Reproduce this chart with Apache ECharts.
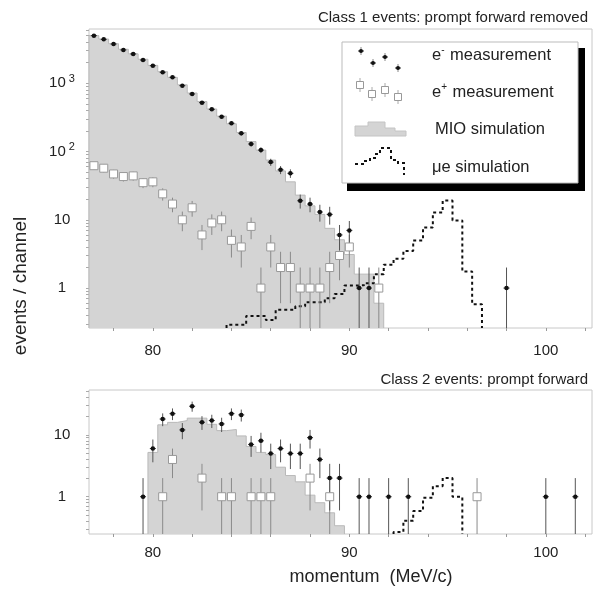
<!DOCTYPE html>
<html>
<head>
<meta charset="utf-8">
<script src="https://cdn.jsdelivr.net/npm/echarts@6/dist/echarts.min.js"></script>
<style>html,body{margin:0;padding:0;background:#fff}#c{width:595px;height:591px}</style>
</head>
<body>
<div id="c"></div>
<script>
// ---------- DATA ----------
// Class 1 (top panel)
const topEmX   = [77,77.5,78,78.5,79,79.5,80,80.5,81,81.5,82,82.5,83,83.5,84,84.5,85,85.5,86,86.5,87,87.5,88,88.5,89,89.5,90,90.5,91,98];
const topEmY   = [4980,4400,3760,3080,2690,2190,1810,1450,1225,923,697,520,416,324,260,185,129,105,70,54,48,19,17,13,12,6,7,1,1,1];
const topEmErr = [71,66,61,55,52,47,43,38,35,30,26,23,20,18,16,14,11,10,8.4,7.3,6.9,4.4,4.1,3.6,3.5,2.4,2.6,1,1,1];

const topEpX   = [77,77.5,78,78.5,79,79.5,80,80.5,81,81.5,82,82.5,83,83.5,84,84.5,85,85.5,86,86.5,87,87.5,88,88.5,89,89.5,90,91.5];
const topEpY   = [62,57,47,43,44,35,36,24,17,10,15,6,9,10,5,4,8,1,4,2,2,1,1,1,2,3,4,1];
const topEpErr = [7.9,7.5,6.9,6.6,6.6,5.9,6,4.9,4.1,3.2,3.9,2.4,3,3.2,2.2,2,2.8,1,2,1.4,1.4,1,1,1,1.4,1.7,2,1];

const topMioX  = [77,77.5,78,78.5,79,79.5,80,80.5,81,81.5,82,82.5,83,83.5,84,84.5,85,85.5,86,86.5,87,87.5,88,88.5,89,89.5,90,90.5,91,91.5];
const topMioY  = [5000,4450,3800,3150,2700,2250,1830,1480,1220,950,720,540,420,330,255,190,140,105,75,52,36,23,16,12,7.5,5.1,3.1,1.6,1.6,0.6];

const topMueX  = [84,84.5,85,85.5,86,86.5,87,87.5,88,88.5,89,89.5,90,90.5,91,91.5,92,92.5,93,93.5,94,94.5,95,95.5,96,96.5];
const topMueY  = [0.29,0.29,0.39,0.39,0.34,0.48,0.48,0.54,0.62,0.62,0.71,0.82,1.09,1.1,1.18,1.6,2.2,2.68,3.5,4.97,7.7,12.8,19.1,9.8,1.75,0.58];

// Class 2 (bottom panel)
const botEmX   = [79.5,80,80.5,81,81.5,82,82.5,83,83.5,84,84.5,85,85.5,86,86.5,87,87.5,88,88.5,89,89.5,90.5,91,92,93,100,101.5];
const botEmY   = [1,6,18,22,12,29,16,17,15,22,21,7,8,5,6,5,5,9,4,2,2,1,1,1,1,1,1];
const botEmErr = [1,2.4,4.2,4.7,3.5,5.4,4,4.1,3.9,4.7,4.6,2.6,2.8,2.2,2.4,2.2,2.2,3,2,1.4,1.4,1,1,1,1,1,1];

const botEpX   = [80.5,81,82.5,83.5,84,85,85.5,86,88,89,96.5];
const botEpY   = [1,4,2,1,1,1,1,1,2,1,1];
const botEpErr = [1,2,1.4,1,1,1,1,1,1.4,1,1];

const botMioX  = [80,80.5,81,81.5,82,82.5,83,83.5,84,84.5,85,85.5,86,86.5,87,87.5,88,88.5,89,89.5];
const botMioY  = [5.2,14.5,15.9,17,18.6,18.6,14.8,11.7,12.2,9.6,6.5,5.2,4.8,3.0,2.2,1.74,1.06,0.8,0.55,0.34];

const botMueX  = [92.5,93,93.5,94,94.5,95,95.5];
const botMueY  = [0.27,0.41,0.59,0.96,1.48,2.0,1.0];

// tick positions
const xTickValues   = [78,80,82,84,86,88,90,92,94,96,98,100,102];
const xLabelValues  = [80,90,100];
const topYTickValues = [0.3,0.4,0.5,0.6,0.7,0.8,0.9,1,2,3,4,5,6,7,8,9,10,20,30,40,50,60,70,80,90,100,200,300,400,500,600,700,800,900,1000,2000,3000,4000,5000,6000];
const botYTickValues = [0.3,0.4,0.5,0.6,0.7,0.8,0.9,1,2,3,4,5,6,7,8,9,10,20,30,40,50];
const binHalf = 0.25;

// ---------- helpers ----------
const X_MIN = 76.75, X_MAX = 102.35;
const TOP_YMIN = 0.26, TOP_YMAX = 6240;
const BOT_YMIN = 0.25, BOT_YMAX = 53;
const FONT = '"Liberation Sans", Arial, Helvetica, sans-serif';

function steps(xs, ys, floor) {
  const d = [[xs[0] - binHalf, floor]];
  for (let i = 0; i < xs.length; i++) {
    d.push([xs[i] - binHalf, ys[i]]);
    d.push([xs[i] + binHalf, ys[i]]);
  }
  d.push([xs[xs.length - 1] + binHalf, floor]);
  return d;
}
function triples(xs, ys, es) { return xs.map((x, i) => [x, ys[i], es[i]]); }
function pairs(xs, ys) { return xs.map((x, i) => [x, ys[i]]); }

function errSeries(xi, yi, data, yMin, color, cap) {
  return {
    type: 'custom', xAxisIndex: xi, yAxisIndex: yi, clip: true, z: 3, silent: true,
    data: data,
    renderItem: function (params, api) {
      const x = api.value(0), y = api.value(1), e = api.value(2);
      const lo = Math.max(y - e, yMin * 0.9);
      const p1 = api.coord([x, lo]);
      const p2 = api.coord([x, y + e]);
      const children = [{
        type: 'line', shape: { x1: p1[0], y1: p1[1], x2: p2[0], y2: p2[1] },
        style: { stroke: color, lineWidth: 1 }
      }];
      if (cap) {
        const c = api.coord([x, y]);
        children.push({ type: 'line', shape: { x1: c[0] - 3, y1: c[1], x2: c[0] + 3, y2: c[1] },
          style: { stroke: '#333', lineWidth: 1 } });
      }
      return { type: 'group', children: children };
    }
  };
}

function yLabel(v) {
  const p = Math.round(Math.log10(v));
  if (Math.abs(Math.log10(v) - p) > 0.01) return '';
  if (p === 0) return '1';
  if (p === 1) return '10';
  return '{b|10}{s|' + p + '}';
}
const yRich = {
  b: { fontSize: 15, fontFamily: FONT, color: '#222' },
  s: { fontSize: 11, fontFamily: FONT, color: '#222', padding: [0, 0, 9, 3] }
};

function xAxisDef(gi, margin) {
  return {
    type: 'value', gridIndex: gi, min: X_MIN, max: X_MAX,
    axisLine: { show: false },
    splitLine: { show: false },
    axisTick: { show: true, length: 3, lineStyle: { color: '#999' }, customValues: xTickValues },
    axisLabel: { show: true, fontSize: 15, fontFamily: FONT, color: '#222', margin: margin, customValues: xLabelValues }
  };
}
function yAxisDef(gi, mn, mx, ticks) {
  return {
    type: 'log', logBase: 10, gridIndex: gi, min: mn, max: mx,
    axisLine: { show: false },
    splitLine: { show: false },
    axisTick: { show: true, length: 3, lineStyle: { color: '#aaa' }, customValues: ticks },
    minorTick: { show: false },
    axisLabel: { show: true, showMinLabel: false, showMaxLabel: false, align: 'center', margin: 27,
      fontSize: 15, fontFamily: FONT, color: '#222', formatter: yLabel, rich: yRich }
  };
}

function mioSeries(xi, yi, data) {
  return {
    type: 'line', xAxisIndex: xi, yAxisIndex: yi, data: data, symbol: 'none', z: 1,
    lineStyle: { color: '#b9b9b9', width: 1 },
    areaStyle: { color: '#d4d4d4', opacity: 1, origin: 'start' },
    animation: false, silent: true
  };
}
function mueSeries(xi, yi, data) {
  return {
    type: 'line', xAxisIndex: xi, yAxisIndex: yi, data: data, symbol: 'none', z: 2,
    lineStyle: { color: '#111', width: 2, type: [3, 3] },
    animation: false, silent: true
  };
}
function epSeries(xi, yi, data) {
  return {
    type: 'scatter', xAxisIndex: xi, yAxisIndex: yi, data: data, symbol: 'rect', symbolSize: 8, z: 4,
    itemStyle: { color: '#fff', borderColor: '#999', borderWidth: 1, opacity: 1 }, silent: true
  };
}
function emSeries(xi, yi, data) {
  return {
    type: 'scatter', xAxisIndex: xi, yAxisIndex: yi, data: data, symbol: 'circle', symbolSize: 4.5, z: 5,
    itemStyle: { color: '#111', opacity: 1 }, silent: true
  };
}

// ---------- legend graphics ----------
const LG = [];
LG.push({ type: 'rect', shape: { x: 347, y: 48, width: 238, height: 143 }, style: { fill: '#000' }, z: 100 });
LG.push({ type: 'rect', shape: { x: 342, y: 42, width: 236, height: 141 }, style: { fill: '#fff', stroke: '#bbb', lineWidth: 1 }, z: 101 });
[[361,51],[373,63],[385,57],[398,68]].forEach(p => {
  LG.push({ type: 'line', shape: { x1: p[0], y1: p[1] - 4, x2: p[0], y2: p[1] + 4 }, style: { stroke: '#888', lineWidth: 1 }, z: 102 });
  LG.push({ type: 'line', shape: { x1: p[0] - 3, y1: p[1], x2: p[0] + 3, y2: p[1] }, style: { stroke: '#333', lineWidth: 1 }, z: 102 });
  LG.push({ type: 'circle', shape: { cx: p[0], cy: p[1], r: 2 }, style: { fill: '#111' }, z: 103 });
});
[[360,85],[372,94],[385,90],[398,97]].forEach(p => {
  LG.push({ type: 'line', shape: { x1: p[0], y1: p[1] - 7, x2: p[0], y2: p[1] + 7 }, style: { stroke: '#aaa', lineWidth: 1 }, z: 102 });
  LG.push({ type: 'rect', shape: { x: p[0] - 3.5, y: p[1] - 3.5, width: 7, height: 7 }, style: { fill: '#fff', stroke: '#999', lineWidth: 1 }, z: 103 });
});
LG.push({ type: 'polygon', shape: { points: [[355,136],[355,126],[368,126],[368,122],[385,122],[385,128],[395,128],[395,131],[406,131],[406,136]] },
  style: { fill: '#d4d4d4', stroke: '#c4c4c4', lineWidth: 1 }, z: 102 });
LG.push({ type: 'polyline', shape: { points: [[355,164],[364,164],[364,161],[370,161],[370,158],[375,158],[375,154],[380,154],[380,148],[391,148],[391,160],[398,160],[398,163],[404,163],[404,175]] },
  style: { stroke: '#111', lineWidth: 2, lineDash: [3, 3], fill: null }, z: 102 });
const legendRich = {
  s: { fontSize: 10, fontFamily: FONT, color: '#222', padding: [0, 1, 9, 0] },
  n: { fontSize: 16.5, fontFamily: FONT, color: '#222' }
};
function lgText(x, y, txt) {
  return { type: 'text', x: x, y: y, z: 104,
    style: { text: txt, rich: legendRich, font: '16.5px ' + FONT, fill: '#222', textVerticalAlign: 'middle', verticalAlign: 'middle' } };
}
LG.push(lgText(432, 55, '{n|e}{s|-}{n| measurement}'));
LG.push(lgText(432, 92, '{n|e}{s|+}{n| measurement}'));
LG.push(lgText(435, 129, '{n|MIO simulation}'));
LG.push(lgText(432, 167, '{n|\u03bce simulation}'));

const OTHER = [
  { type: 'text', x: 588, y: 18, z: 110, style: { text: 'Class 1 events: prompt forward removed', font: '15px ' + FONT, fill: '#222', align: 'right', verticalAlign: 'middle' } },
  { type: 'text', x: 588, y: 380, z: 110, style: { text: 'Class 2 events: prompt forward', font: '15px ' + FONT, fill: '#222', align: 'right', verticalAlign: 'middle' } },
  { type: 'text', x: 371, y: 577, z: 110, style: { text: 'momentum  (MeV/c)', font: '18px ' + FONT, fill: '#222', align: 'center', verticalAlign: 'middle' } },
  { type: 'text', x: 21, y: 286, rotation: Math.PI / 2, z: 110, style: { text: 'events / channel', font: '19px ' + FONT, fill: '#222', align: 'center', verticalAlign: 'middle' } }
];

// ---------- chart ----------
const chart = echarts.init(document.getElementById('c'), null, { renderer: 'canvas' });
chart.setOption({
  animation: false,
  backgroundColor: '#fff',
  grid: [
    { left: 89, top: 29, width: 503, height: 299, show: true, borderColor: '#c8c8c8', borderWidth: 1, backgroundColor: 'transparent' },
    { left: 89, top: 390, width: 503, height: 144, show: true, borderColor: '#c8c8c8', borderWidth: 1, backgroundColor: 'transparent' }
  ],
  xAxis: [xAxisDef(0, 15), xAxisDef(1, 11)],
  yAxis: [yAxisDef(0, TOP_YMIN, TOP_YMAX, topYTickValues), yAxisDef(1, BOT_YMIN, BOT_YMAX, botYTickValues)],
  series: [
    mioSeries(0, 0, steps(topMioX, topMioY, TOP_YMIN)),
    mueSeries(0, 0, steps(topMueX, topMueY, TOP_YMIN)),
    errSeries(0, 0, triples(topEpX, topEpY, topEpErr), TOP_YMIN, '#8a8a8a', false),
    epSeries(0, 0, pairs(topEpX, topEpY)),
    errSeries(0, 0, triples(topEmX, topEmY, topEmErr), TOP_YMIN, '#555', true),
    emSeries(0, 0, pairs(topEmX, topEmY)),

    mioSeries(1, 1, steps(botMioX, botMioY, BOT_YMIN)),
    mueSeries(1, 1, steps(botMueX, botMueY, BOT_YMIN)),
    errSeries(1, 1, triples(botEpX, botEpY, botEpErr), BOT_YMIN, '#8a8a8a', false),
    epSeries(1, 1, pairs(botEpX, botEpY)),
    errSeries(1, 1, triples(botEmX, botEmY, botEmErr), BOT_YMIN, '#555', true),
    emSeries(1, 1, pairs(botEmX, botEmY))
  ],
  graphic: LG.concat(OTHER)
});
</script>
</body>
</html>
